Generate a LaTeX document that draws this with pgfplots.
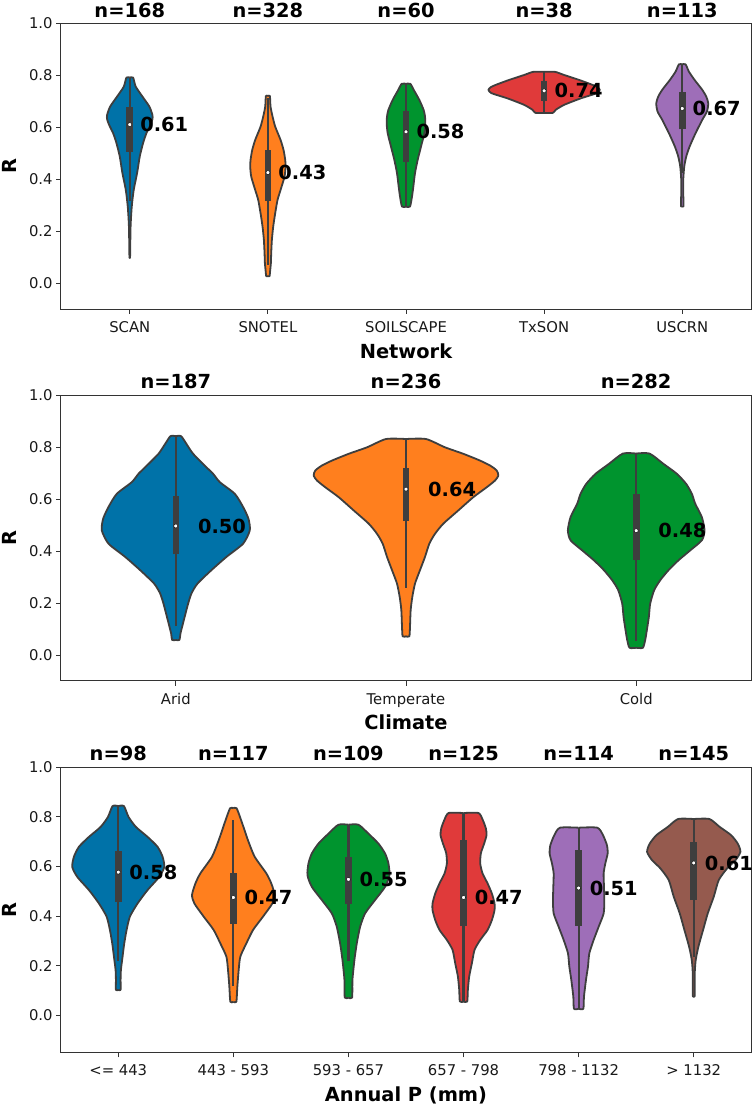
\documentclass[border=0pt]{standalone}
\usepackage{fontspec}
\setmainfont{DejaVu Sans}
\usepackage{pgfplots}
\usepackage{pgfplotstable}
\pgfplotsset{compat=1.18}
\usepgfplotslibrary{fillbetween}

\definecolor{cblue}{RGB}{0,114,168}
\definecolor{corange}{RGB}{255,127,30}
\definecolor{cgreen}{RGB}{0,148,46}
\definecolor{cred}{RGB}{224,58,58}
\definecolor{cpurple}{RGB}{158,110,184}
\definecolor{cbrown}{RGB}{149,90,78}
\definecolor{cline}{RGB}{62,62,62}

\newcommand{\tickfont}{\fontsize{14.8}{16}\selectfont}
\newcommand{\boldfont}{\fontsize{19.4}{22}\selectfont\bfseries}

% y = R, w = half width of the violin in zoom pixels
% top panel
\pgfplotstableread[row sep=\\]{y w\\ .103 0\\ .103 1\\ .218 2.5\\ .295 6\\ .36 12\\ .424 22\\ .488 30\\ .54 40\\ .578 50\\ .61 62\\ .632 68\\ .648 68\\ .68 59\\ .719 38\\ .757 18\\ .792 10\\ .792 0\\}\tscan
\pgfplotstableread[row sep=\\]{y w\\ .027 0\\ .027 5\\ .051 7\\ .077 9\\ .116 10\\ .167 12\\ .218 16\\ .27 22\\ .321 29\\ .359 38\\ .411 50\\ .449 53\\ .475 52\\ .513 47\\ .552 38\\ .603 22\\ .642 14\\ .68 8\\ .721 6\\ .721 0\\}\tsnotel
\pgfplotstableread[row sep=\\]{y w\\ .295 0\\ .295 12\\ .334 18\\ .372 22\\ .424 27\\ .475 35\\ .526 45\\ .578 55\\ .616 58\\ .642 57\\ .667 53\\ .706 40\\ .745 23\\ .768 13\\ .768 0\\}\tsoil
\pgfplotstableread[row sep=\\]{y w\\ .656 0\\ .656 26\\ .668 35\\ .687 60\\ .712 110\\ .732 158\\ .745 167\\ .755 160\\ .764 145\\ .783 105\\ .802 60\\ .814 33\\ .814 0\\}\ttxson
\pgfplotstableread[row sep=\\]{y w\\ .297 0\\ .297 4\\ .347 3\\ .398 3\\ .449 6\\ .488 12\\ .526 22\\ .578 40\\ .629 60\\ .661 74\\ .693 78\\ .719 72\\ .745 60\\ .783 37\\ .815 20\\ .843 10\\ .843 0\\}\tuscrn
% middle panel
\pgfplotstableread[row sep=\\]{y w\\ .058 0\\ .058 11\\ .083 14\\ .134 24\\ .198 37\\ .237 47\\ .275 65\\ .327 107\\ .378 152\\ .429 202\\ .48 222\\ .525 218\\ .57 202\\ .621 177\\ .666 132\\ .698 112\\ .723 92\\ .775 52\\ .813 32\\ .843 16\\ .843 0\\}\tarid
\pgfplotstableread[row sep=\\]{y w\\ .072 0\\ .072 10\\ .109 12\\ .173 14\\ .224 19\\ .275 27\\ .327 42\\ .378 57\\ .429 70\\ .467 87\\ .506 112\\ .557 157\\ .608 202\\ .646 242\\ .672 267\\ .691 277\\ .711 272\\ .73 252\\ .749 222\\ .775 172\\ .8 117\\ .832 60\\ .832 0\\}\ttemp
\pgfplotstableread[row sep=\\]{y w\\ .028 0\\ .028 20\\ .058 27\\ .096 32\\ .147 38\\ .198 42\\ .25 54\\ .288 72\\ .327 97\\ .365 127\\ .403 162\\ .442 197\\ .48 205\\ .531 197\\ .583 177\\ .621 167\\ .659 150\\ .698 122\\ .736 82\\ .776 40\\ .776 0\\}\tcold
% bottom panel
\pgfplotstableread[row sep=\\]{y w\\ .103 0\\ .103 7\\ .143 7\\ .183 8\\ .237 13\\ .29 18\\ .344 25\\ .398 35\\ .451 58\\ .505 88\\ .558 123\\ .598 138\\ .639 133\\ .679 118\\ .719 88\\ .759 53\\ .799 31\\ .843 17\\ .843 0\\}\tpa
\pgfplotstableread[row sep=\\]{y w\\ .055 0\\ .055 9\\ .116 12\\ .183 16\\ .237 21\\ .29 39\\ .344 59\\ .398 89\\ .451 117\\ .485 124\\ .531 114\\ .572 99\\ .639 64\\ .705 44\\ .772 27\\ .834 10\\ .834 0\\}\tpb
\pgfplotstableread[row sep=\\]{y w\\ .072 0\\ .072 11\\ .143 12\\ .224 18\\ .29 25\\ .357 35\\ .411 50\\ .465 80\\ .518 110\\ .565 123\\ .612 120\\ .652 110\\ .692 90\\ .732 60\\ .768 30\\ .768 0\\}\tpc
\pgfplotstableread[row sep=\\]{y w\\ .056 0\\ .056 11\\ .104 13\\ .157 17\\ .21 25\\ .264 33\\ .304 50\\ .344 72\\ .384 85\\ .424 93\\ .451 93\\ .491 85\\ .532 72\\ .572 57\\ .612 50\\ .653 52\\ .693 62\\ .726 69\\ .753 67\\ .786 58\\ .815 45\\ .815 0\\}\tpd
\pgfplotstableread[row sep=\\]{y w\\ .027 0\\ .027 14\\ .076 16\\ .143 22\\ .197 28\\ .25 32\\ .304 45\\ .357 60\\ .411 75\\ .465 77\\ .518 76\\ .572 75\\ .612 80\\ .652 87\\ .685 85\\ .726 73\\ .756 56\\ .756 0\\}\tpe
\pgfplotstableread[row sep=\\]{y w\\ .079 0\\ .079 3\\ .17 3\\ .224 6\\ .277 14\\ .344 28\\ .411 42\\ .478 60\\ .545 75\\ .592 100\\ .625 125\\ .659 140\\ .692 132\\ .726 112\\ .759 78\\ .791 47\\ .791 0\\}\tpf

% #1 centre, #2 table, #3 zoom pixels per category, #4 colour
\newcommand{\violin}[4]{%
  \addplot[name path=R#1, draw=cline, line width=1.8pt, line join=round, no marks, smooth, tension=0.4]
    table[x expr=#1+\thisrow{w}/#3, y=y] {#2};
  \addplot[name path=L#1, draw=cline, line width=1.8pt, line join=round, no marks, smooth, tension=0.4]
    table[x expr=#1-\thisrow{w}/#3, y=y] {#2};
  \addplot[fill=#4, draw=none] fill between[of=R#1 and L#1];
}
% #1 centre, #2 whisker low, #3 q1, #4 median, #5 q3, #6 whisker high
\newcommand{\boxinner}[6]{%
  \addplot[draw=cline, line width=2.2pt, no marks] coordinates {(#1,#2) (#1,#6)};
  \addplot[draw=cline, line width=6.6pt, no marks] coordinates {(#1,#3) (#1,#5)};
  \addplot[only marks, mark=*, mark size=2pt, mark options={fill=white, draw=none}] coordinates {(#1,#4)};
}
% #1 centre, #2 y of label, #3 shift, #4 text, #5 n text
\newcommand{\labels}[5]{%
  \node[anchor=west, inner sep=0pt, font=\boldfont] at (axis cs:#1,#2) [xshift=#3] {#4};
  \node[anchor=base, inner sep=0pt, font=\boldfont] at (axis cs:#1,1) [yshift=6.5pt] {#5};
}

\pgfplotsset{
  panel/.style={
    scale only axis, width=690.6pt, height=285.6pt,
    ymax=1, ytick={0,0.2,0.4,0.6,0.8,1}, yticklabels={0.0,0.2,0.4,0.6,0.8,1.0},
    clip=false,
    axis line style={draw=black!80, line width=1pt},
    tick style={draw=black!80, line width=1pt},
    tick align=outside, major tick length=4.6pt, tick pos=left,
    ticklabel style={font=\tickfont, text=black!90},
    xticklabel style={anchor=base, yshift=-18.5pt},
    xlabel style={at={(axis description cs:0.5,0)}, anchor=base, yshift=-49pt, font=\boldfont},
    ylabel style={at={(axis description cs:0,0.5)}, anchor=base, xshift=0pt, yshift=44.7pt, font=\boldfont},
    ylabel={R},
  }
}

\begin{document}
\begin{tikzpicture}

\begin{axis}[panel, at={(60.7pt,795.8pt)}, anchor=south west,
    xmin=-0.5, xmax=4.5, ymin=-0.1, xtick={0,1,2,3,4},
    xticklabels={SCAN,SNOTEL,SOILSCAPE,TxSON,USCRN}, xlabel={Network}]
  \violin{0}{\tscan}{414.3}{cblue}
  \violin{1}{\tsnotel}{414.3}{corange}
  \violin{2}{\tsoil}{414.3}{cgreen}
  \violin{3}{\ttxson}{414.3}{cred}
  \violin{4}{\tuscrn}{414.3}{cpurple}
  \boxinner{0}{.315}{.507}{.611}{.678}{.792}
  \boxinner{1}{.071}{.317}{.426}{.515}{.712}
  \boxinner{2}{.295}{.465}{.583}{.664}{.768}
  \boxinner{3}{.656}{.702}{.741}{.777}{.814}
  \boxinner{4}{.424}{.593}{.673}{.737}{.843}
  \labels{0}{.611}{10.3pt}{0.61}{n=168}
  \labels{1}{.426}{10.3pt}{0.43}{n=328}
  \labels{2}{.583}{10.3pt}{0.58}{n=60}
  \labels{3}{.741}{10.3pt}{0.74}{n=38}
  \labels{4}{.673}{10.3pt}{0.67}{n=113}
\end{axis}

\begin{axis}[panel, at={(60.7pt,424pt)}, anchor=south west,
    xmin=-0.5, xmax=2.5, ymin=-0.1, xtick={0,1,2},
    xticklabels={Arid,Temperate,Cold}, xlabel={Climate}]
  \violin{0}{\tarid}{690.6}{cblue}
  \violin{1}{\ttemp}{690.6}{corange}
  \violin{2}{\tcold}{690.6}{cgreen}
  \boxinner{0}{.111}{.388}{.497}{.611}{.843}
  \boxinner{1}{.259}{.516}{.639}{.721}{.832}
  \boxinner{2}{.055}{.365}{.479}{.621}{.776}
  \labels{0}{.497}{22pt}{0.50}{n=187}
  \labels{1}{.639}{22pt}{0.64}{n=236}
  \labels{2}{.479}{22pt}{0.48}{n=282}
\end{axis}

\begin{axis}[panel, at={(60.7pt,52.3pt)}, anchor=south west,
    xmin=-0.5, xmax=5.5, ymin=-0.15, xtick={0,1,2,3,4,5},
    xticklabels={<= 443,443 - 593,593 - 657,657 - 798,798 - 1132,> 1132}, xlabel={Annual P (mm)}]
  \violin{0}{\tpa}{345.3}{cblue}
  \violin{1}{\tpb}{345.3}{corange}
  \violin{2}{\tpc}{345.3}{cgreen}
  \violin{3}{\tpd}{345.3}{cred}
  \violin{4}{\tpe}{345.3}{cpurple}
  \violin{5}{\tpf}{345.3}{cbrown}
  \boxinner{0}{.221}{.458}{.577}{.661}{.843}
  \boxinner{1}{.119}{.369}{.475}{.572}{.786}
  \boxinner{2}{.218}{.447}{.548}{.636}{.768}
  \boxinner{3}{.056}{.36}{.475}{.705}{.815}
  \boxinner{4}{.027}{.36}{.513}{.668}{.756}
  \boxinner{5}{.237}{.465}{.614}{.699}{.791}
  \labels{0}{.577}{11pt}{0.58}{n=98}
  \labels{1}{.475}{11pt}{0.47}{n=117}
  \labels{2}{.548}{11pt}{0.55}{n=109}
  \labels{3}{.475}{11pt}{0.47}{n=125}
  \labels{4}{.513}{11pt}{0.51}{n=114}
  \labels{5}{.614}{11pt}{0.61}{n=145}
\end{axis}

\pgfresetboundingbox
\path[use as bounding box] (0,0) rectangle (754pt,1105pt);
\end{tikzpicture}
\end{document}
